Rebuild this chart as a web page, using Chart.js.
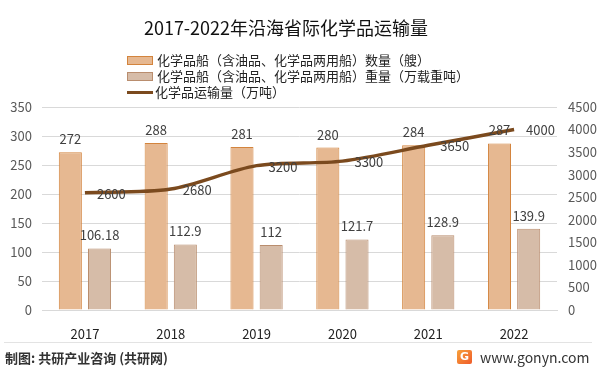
<!DOCTYPE html>
<html>
<head>
<meta charset="utf-8">
<script src="https://cdn.jsdelivr.net/npm/chart.js@4"></script>
<style>
  body { margin: 0; width: 598px; height: 372px; background: #fff; position: relative; overflow: hidden;
         font-family: "Noto Sans CJK SC", "Noto Sans", sans-serif; }
  #wrap { position: absolute; left: 0; top: 0; width: 598px; height: 372px; }
  .title { position: absolute; left: 0; width: 572px; top: 14px; text-align: center; font-size: 18px; color: #111; }
  .legend { position: absolute; left: 127px; top: 52px; font-size: 13px; color: #222; }
  .legend div { height: 16px; line-height: 16px; display: flex; align-items: center; }
  .legend span.sw { display: inline-block; width: 24px; height: 7px; margin-right: 4px; }
  .legend span.ln { display: inline-block; width: 26px; height: 3px; margin-right: 2px; background: #7B4A1E; }
  .sep { position: absolute; left: 4px; right: 6px; top: 342px; height: 1px; background: #e3e3e3; }
  .foot { position: absolute; left: 5px; top: 348px; font-size: 13px; color: #333; font-weight: bold; }
  .site { position: absolute; left: 480px; top: 347px; font-size: 14px; color: #333; }
  .logo { position: absolute; left: 457px; top: 350px; width: 15px; height: 14px; border-radius: 2px;
          background: linear-gradient(135deg, #f7a13b, #ef5b2a); color: #fff; font-size: 11px;
          font-weight: bold; line-height: 14px; text-align: center; font-family: "DejaVu Sans", sans-serif; }
</style>
</head>
<body>
<div id="wrap"><canvas id="chart" width="598" height="372"></canvas></div>
<div class="title">2017-2022年沿海省际化学品运输量</div>
<div class="legend">
  <div><span class="sw" style="background:#E6B891;border:1px solid #D3843D"></span>化学品船（含油品、化学品两用船）数量（艘）</div>
  <div><span class="sw" style="background:#D6BCA8;border:1px solid #B98D6E"></span>化学品船（含油品、化学品两用船）重量（万载重吨）</div>
  <div><span class="ln"></span>化学品运输量（万吨）</div>
</div>
<div class="sep"></div>
<div class="foot">制图: 共研产业咨询 (共研网)</div>
<div class="logo">G</div>
<div class="site">www.gonyn.com</div>

<script>
// data
const years = ["2017", "2018", "2019", "2020", "2021", "2022"];
const shipCount = [272, 288, 281, 280, 284, 287];
const shipTonnage = [106.18, 112.9, 112, 121.7, 128.9, 139.9];
const transportVolume = [2600, 2680, 3200, 3300, 3650, 4000];
const leftTicks = [0, 50, 100, 150, 200, 250, 300, 350];
const rightTicks = [0, 500, 1000, 1500, 2000, 2500, 3000, 3500, 4000, 4500];

const labelFont = '13px "Noto Sans CJK SC", sans-serif';

// draw value labels like the Excel data labels
const valueLabels = {
  id: "valueLabels",
  afterDatasetsDraw(chart) {
    const ctx = chart.ctx;
    ctx.save();
    ctx.font = labelFont;
    ctx.fillStyle = "#404040";
    ctx.textBaseline = "middle";
    chart.data.datasets.forEach((ds, i) => {
      const meta = chart.getDatasetMeta(i);
      meta.data.forEach((el, j) => {
        const v = ds.data[j];
        if (ds.type === "line") {
          ctx.textAlign = "left";
          ctx.fillText(String(v), el.x + 12, el.y + 1);
        } else {
          ctx.textAlign = "center";
          ctx.fillText(String(v), el.x, el.y - 13);
        }
      });
    });
    ctx.restore();
  },
};

const ctx = document.getElementById("chart").getContext("2d");
new Chart(ctx, {
  type: "bar",
  data: {
    labels: years,
    datasets: [
      {
        type: "line",
        label: "化学品运输量（万吨）",
        data: transportVolume,
        yAxisID: "y1",
        borderColor: "#7B4A1E",
        borderWidth: 3.5,
        pointRadius: 0,
        tension: 0.3,
        order: 0,
      },
      {
        label: "化学品船（含油品、化学品两用船）数量（艘）",
        data: shipCount,
        yAxisID: "y",
        backgroundColor: "#E6B891",
        borderColor: "#D3843D",
        borderWidth: 1,
        categoryPercentage: 0.68,
        barPercentage: 0.79,
        order: 1,
      },
      {
        label: "化学品船（含油品、化学品两用船）重量（万载重吨）",
        data: shipTonnage,
        yAxisID: "y",
        backgroundColor: "#D6BCA8",
        borderColor: "#B98D6E",
        borderWidth: 1,
        categoryPercentage: 0.68,
        barPercentage: 0.79,
        order: 2,
      },
    ],
  },
  options: {
    responsive: false,
    animation: false,
    layout: { padding: { top: 107, bottom: 32, left: 0, right: 0 } },
    plugins: {
      legend: { display: false },
      tooltip: { enabled: false },
    },
    scales: {
      x: {
        grid: { display: false },
        border: { color: "#D9D9D9" },
        ticks: { color: "#222", font: { size: 13, family: "Noto Sans CJK SC" }, padding: 8 },
        afterFit: (scale) => { scale.height = 30; },
      },
      y: {
        position: "left",
        min: 0,
        max: 350,
        afterBuildTicks: (scale) => { scale.ticks = leftTicks.map((v) => ({ value: v })); },
        grid: { color: "#D9D9D9", drawTicks: false },
        border: { display: false },
        ticks: {
          color: "#595959",
          font: { size: 13, family: "Noto Sans CJK SC" },
          padding: 10,
          callback: (v) => String(v),
        },
        afterFit: (scale) => { scale.width = 42; },
      },
      y1: {
        position: "right",
        min: 0,
        max: 4500,
        afterBuildTicks: (scale) => { scale.ticks = rightTicks.map((v) => ({ value: v })); },
        grid: { display: false, drawTicks: false },
        border: { display: false },
        ticks: {
          color: "#595959",
          font: { size: 13, family: "Noto Sans CJK SC" },
          padding: 11,
          callback: (v) => String(v),
        },
        afterFit: (scale) => { scale.width = 41; },
      },
    },
  },
  plugins: [valueLabels],
});
</script>
</body>
</html>
